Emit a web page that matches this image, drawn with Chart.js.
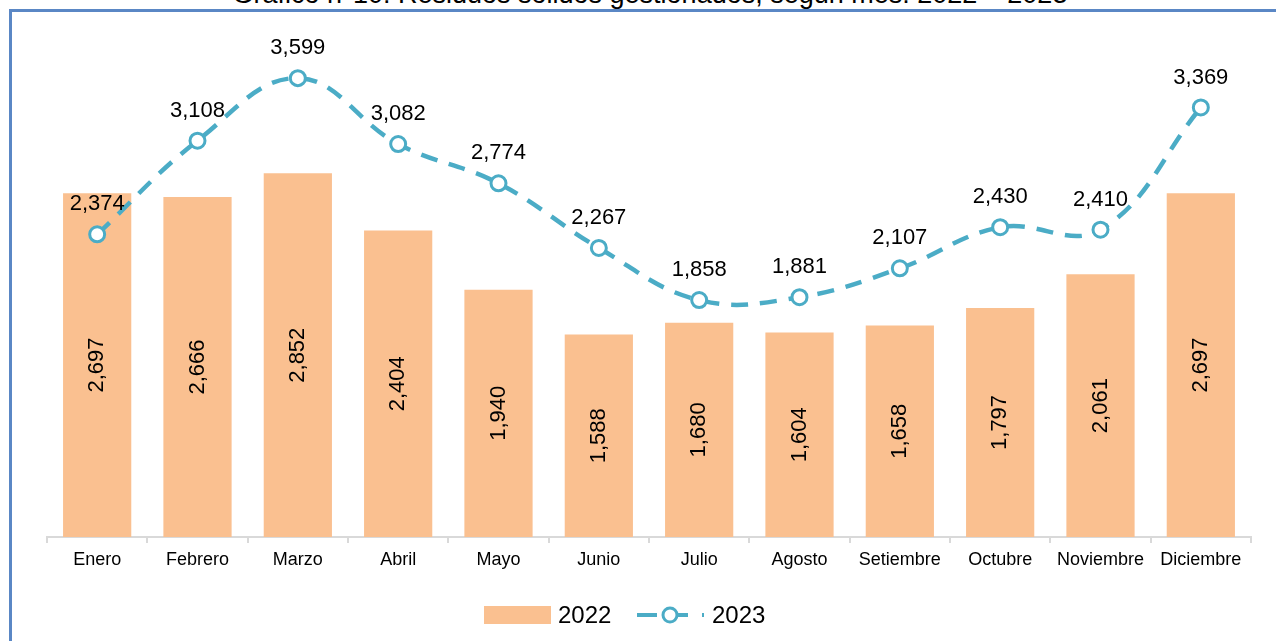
<!DOCTYPE html>
<html>
<head>
<meta charset="utf-8">
<title>Residuos sólidos gestionados</title>
<script src="https://cdn.jsdelivr.net/npm/chart.js@4.4.1/dist/chart.umd.min.js"></script>
<style>
  html, body { margin: 0; padding: 0; background: #fff; }
  #wrap { position: relative; width: 1276px; height: 641px; overflow: hidden; }
  #frame { position: absolute; left: 9px; top: 9px; width: 1300px; height: 700px; border-left: 3px solid #5a87c5; border-top: 3px solid #5a87c5; }
  #title { position: absolute; left: 0; width: 1300px; top: -21px; line-height: 31px; text-align: center; font: 27px "Liberation Sans", Arial, sans-serif; color: #000; white-space: nowrap; }
  canvas { position: absolute; left: 0; top: 0; }
</style>
</head>
<body>
<div id="wrap">
  <div id="frame"></div>
  <div id="title">Gráfico n°10: Residuos sólidos gestionados, según mes: 2022 – 2023</div>
  <canvas id="myChart" width="1276" height="641"></canvas>
</div>

<script>
var meses = ['Enero', 'Febrero', 'Marzo', 'Abril', 'Mayo', 'Junio', 'Julio', 'Agosto', 'Setiembre', 'Octubre', 'Noviembre', 'Diciembre'];
var datos2022 = [2697, 2666, 2852, 2404, 1940, 1588, 1680, 1604, 1658, 1797, 2061, 2697];
var datos2023 = [2374, 3108, 3599, 3082, 2774, 2267, 1858, 1881, 2107, 2430, 2410, 3369];
var series = ['2022', '2023'];

var colorBarra = '#fac090';
var colorLinea = '#4bacc6';
var fuente = '"Liberation Sans", Arial, sans-serif';

function fmt(v) {
    return v.toLocaleString('en-US');
}

// etiquetas de datos (barras rotadas, linea encima del punto)
var etiquetas = {
    id: 'etiquetas',
    afterDatasetsDraw: function(chart) {
        var ctx = chart.ctx;
        ctx.save();
        ctx.fillStyle = '#000';
        ctx.font = '22px ' + fuente;
        ctx.textAlign = 'center';
        ctx.textBaseline = 'middle';
        // dataset 1 = barras 2022
        var barras = chart.getDatasetMeta(1).data;
        barras.forEach(function(b, i) {
            ctx.save();
            ctx.translate(b.x, (b.y + b.base) / 2);
            ctx.rotate(-Math.PI / 2);
            ctx.fillText(fmt(datos2022[i]), 0, 0);
            ctx.restore();
        });
        // dataset 0 = linea 2023
        var puntos = chart.getDatasetMeta(0).data;
        puntos.forEach(function(p, i) {
            ctx.fillText(fmt(datos2023[i]), p.x, p.y - 30);
        });
        ctx.restore();
    }
};

// leyenda dibujada a mano abajo
var leyenda = {
    id: 'leyenda',
    afterDraw: function(chart) {
        var ctx = chart.ctx;
        var y = 615;
        ctx.save();
        ctx.fillStyle = colorBarra;
        ctx.fillRect(484, y - 9, 67, 18);
        ctx.fillStyle = '#000';
        ctx.font = '24px ' + fuente;
        ctx.textBaseline = 'middle';
        ctx.textAlign = 'left';
        ctx.fillText(series[0], 558, y + 1);
        // simbolo linea
        ctx.strokeStyle = colorLinea;
        ctx.lineWidth = 4;
        ctx.beginPath();
        ctx.moveTo(637, y); ctx.lineTo(657, y);
        ctx.moveTo(676, y); ctx.lineTo(688, y);
        ctx.moveTo(702, y); ctx.lineTo(704, y);
        ctx.stroke();
        ctx.lineWidth = 3;
        ctx.fillStyle = '#fff';
        ctx.beginPath();
        ctx.arc(670, y, 7, 0, Math.PI * 2);
        ctx.fill();
        ctx.stroke();
        ctx.fillStyle = '#000';
        ctx.fillText(series[1], 712, y + 1);
        ctx.restore();
    }
};

var ctx = document.getElementById('myChart').getContext('2d');
var chart = new Chart(ctx, {
    data: {
        labels: meses,
        datasets: [{
            type: 'line',
            label: series[1],
            data: datos2023,
            borderColor: colorLinea,
            borderWidth: 4.5,
            borderDash: [17, 12],
            tension: 0.4,
            pointRadius: 7.5,
            pointBorderWidth: 3,
            pointBackgroundColor: '#fff',
            pointBorderColor: colorLinea,
            order: 0
        }, {
            type: 'bar',
            label: series[0],
            data: datos2022,
            backgroundColor: colorBarra,
            categoryPercentage: 1,
            barPercentage: 0.68,
            order: 1
        }]
    },
    options: {
        responsive: false,
        animation: false,
        layout: { padding: { left: 47, right: 25, top: 27, bottom: 0 } },
        plugins: {
            legend: { display: false },
            tooltip: { enabled: false }
        },
        scales: {
            x: {
                offset: true,
                grid: { offset: true, drawOnChartArea: false, drawTicks: true, tickLength: 6, color: '#d9d9d9', lineWidth: 2 },
                border: { display: true, color: '#d9d9d9', width: 2 },
                ticks: { color: '#000', font: { family: fuente, size: 18 }, padding: 6, maxRotation: 0, autoSkip: false },
                afterFit: function(scale) { scale.height = 104; }
            },
            y: {
                display: false,
                min: 0,
                max: 4000
            }
        }
    },
    plugins: [etiquetas, leyenda]
});
</script>
</body>
</html>
